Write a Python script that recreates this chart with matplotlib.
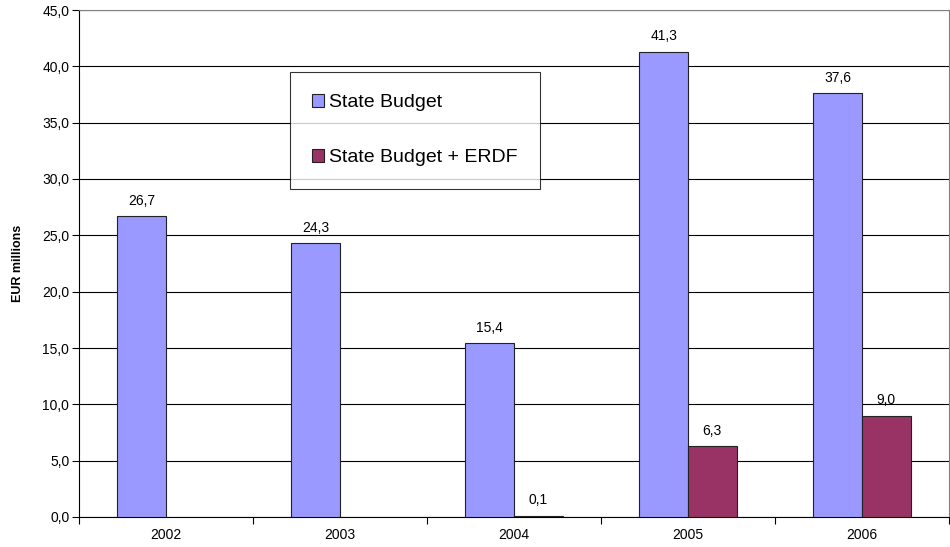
import matplotlib.pyplot as plt
import numpy as np
from matplotlib.ticker import FixedLocator, FuncFormatter

plt.rcParams['font.family'] = ['Liberation Sans', 'DejaVu Sans']

years = ['2002', '2003', '2004', '2005', '2006']
state_budget = [26.7, 24.3, 15.4, 41.3, 37.6]
state_erdf = [None, None, 0.1, 6.3, 9.0]

fig = plt.figure(figsize=(9.5, 5.47), dpi=100)
ax = fig.add_axes([79 / 950, 30 / 547, 870 / 950, 507 / 547])

x = np.arange(len(years))
w = 0.28

sb = ax.bar(x - w / 2, state_budget, w, color='#9999FF', edgecolor='#222222',
            linewidth=0.8, label='State Budget', zorder=3)
erdf_x = [xi + w / 2 for xi, v in zip(x, state_erdf) if v is not None]
erdf_v = [v for v in state_erdf if v is not None]
eb = ax.bar(erdf_x, erdf_v, w, color='#993366', edgecolor='#222222',
            linewidth=0.8, label='State Budget + ERDF', zorder=3)

def fmt(v):
    return f'{v:.1f}'.replace('.', ',')

for xi, v in zip(x - w / 2, state_budget):
    ax.text(xi, v + 0.75, fmt(v), ha='center', va='bottom', fontsize=10)
for xi, v in zip(erdf_x, erdf_v):
    ax.text(xi, v + 0.75, fmt(v), ha='center', va='bottom', fontsize=10)

ax.set_xlim(-0.5, len(years) - 0.5)
ax.set_ylim(0, 45)
ax.set_yticks(np.arange(0, 45.1, 5))
ax.yaxis.set_major_formatter(FuncFormatter(lambda v, p: fmt(v)))
ax.yaxis.grid(True, color='#000000', linewidth=0.8, zorder=0)
ax.tick_params(axis='y', length=5, width=0.8, labelsize=10, pad=2)

# year labels centred, tick marks between groups
ax.xaxis.set_major_locator(FixedLocator(np.arange(-0.5, len(years), 1.0)))
ax.xaxis.set_major_formatter(FuncFormatter(lambda v, p: ''))
ax.xaxis.set_minor_locator(FixedLocator(x))
ax.set_xticklabels(years, minor=True)
ax.tick_params(axis='x', which='major', length=5, width=0.8)
ax.tick_params(axis='x', which='minor', length=0, labelsize=10, pad=8)

for side in ['top', 'right']:
    ax.spines[side].set_color('#808080')
ax.spines['left'].set_color('#000000')
ax.spines['bottom'].set_color('#000000')

ax.set_ylabel('EUR millions', fontsize=9, fontweight='bold', labelpad=13)

leg = ax.legend(loc='upper left', bbox_to_anchor=(211 / 870, 1 - 62 / 507),
                fontsize=14, frameon=True, fancybox=False, edgecolor='#000000',
                handlelength=0.6, handleheight=0.6, handletextpad=0.25,
                labelspacing=1.95, borderpad=1.15, borderaxespad=0)
leg.get_frame().set_linewidth(0.8)
leg.set_zorder(5)

fig.savefig('out.png', dpi=100)
